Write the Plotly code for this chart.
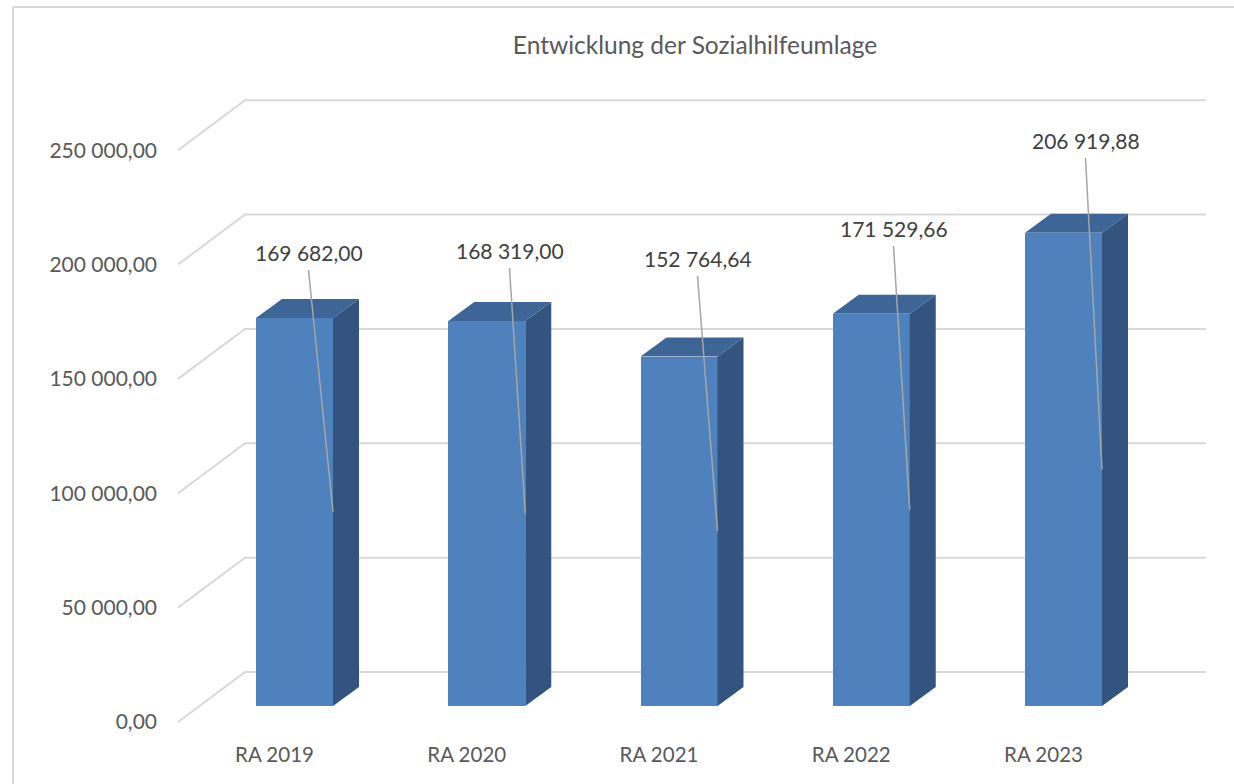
import plotly.graph_objects as go

# ---------------- data ----------------
categories = ["RA 2019", "RA 2020", "RA 2021", "RA 2022", "RA 2023"]
values = [169682.00, 168319.00, 152764.64, 171529.66, 206919.88]
value_labels = ["169 682,00", "168 319,00", "152 764,64", "171 529,66", "206 919,88"]
tick_values = [0, 50000, 100000, 150000, 200000, 250000]
tick_labels = ["0,00", "50 000,00", "100 000,00", "150 000,00", "200 000,00", "250 000,00"]
title_text = "Entwicklung der Sozialhilfeumlage"

# ---------------- geometry / style ----------------
W, H = 1234, 784
PLOT_L, PLOT_R, PLOT_T, PLOT_B = 170, 1220, 90, 740
X0_PX, PX_PER_CAT = 294.5, 192.25       # pixel of category 0 centre, px per category
Y0_PX, UNITS_PER_PX = 706.0, 437.2       # pixel of value 0 (bar plane), value units per px

def xu(px):  # pixel distance -> category units
    return px / PX_PER_CAT

def yu(px):  # pixel distance -> value units
    return px * UNITS_PER_PX

x_range = [(PLOT_L - X0_PX) / PX_PER_CAT, (PLOT_R - X0_PX) / PX_PER_CAT]
y_range = [(Y0_PX - PLOT_B) * UNITS_PER_PX, (Y0_PX - PLOT_T) * UNITS_PER_PX]

BAR_W = xu(77)
DEPTH_X, DEPTH_Y = xu(26), yu(19)
FRONT_OFF = yu(-16)      # front floor edge relative to bar plane
BACK_OFF = yu(34)        # back wall relative to bar plane
GRID_X_FRONT = (178 - X0_PX) / PX_PER_CAT
GRID_X_BACK = (245 - X0_PX) / PX_PER_CAT
GRID_X_RIGHT = (1206 - X0_PX) / PX_PER_CAT

label_dx = [xu(14), xu(22.75), xu(18.5), xu(22.25), xu(22)]
label_y = [yu(454), yu(456), yu(448), yu(478), yu(566)]

FRONT_C = "#4F81BD"
TOP_C = "#3D6595"
SIDE_C = "#33547E"
GRID_C = "#D9D9D9"
TEXT_C = "#595959"
LABEL_C = "#404040"
FONT = "Lato"

xs = list(range(len(categories)))

fig = go.Figure()

# front faces
fig.add_trace(go.Bar(x=xs, y=values, width=BAR_W, marker=dict(color=FRONT_C, line=dict(width=0)),
                     hoverinfo="skip", showlegend=False))

# side and top faces
for i, v in zip(xs, values):
    r = i + BAR_W / 2
    l = i - BAR_W / 2
    fig.add_trace(go.Scatter(
        x=[r, r + DEPTH_X, r + DEPTH_X, r, r],
        y=[0, DEPTH_Y, v + DEPTH_Y, v, 0],
        mode="lines", fill="toself", fillcolor=SIDE_C, line=dict(width=0, color=SIDE_C),
        hoverinfo="skip", showlegend=False))
    fig.add_trace(go.Scatter(
        x=[l, r, r + DEPTH_X, l + DEPTH_X, l],
        y=[v, v, v + DEPTH_Y, v + DEPTH_Y, v],
        mode="lines", fill="toself", fillcolor=TOP_C, line=dict(width=0, color=TOP_C),
        hoverinfo="skip", showlegend=False))

# leader lines + data labels
for i, v, lab, dx, ly in zip(xs, values, value_labels, label_dx, label_y):
    fig.add_trace(go.Scatter(
        x=[i + dx, i + BAR_W / 2], y=[ly - yu(18), v / 2],
        mode="lines", line=dict(color="#A6A6A6", width=1.5),
        hoverinfo="skip", showlegend=False))
    fig.add_annotation(x=i + dx, y=ly, text=lab, showarrow=False, xref="x", yref="y",
                       font=dict(family=FONT, size=21, color=LABEL_C),
                       xanchor="center", yanchor="middle")

# perspective gridlines (front edge -> back wall)
shapes = []
for t in tick_values:
    yf = t + FRONT_OFF
    yb = t + BACK_OFF
    shapes.append(dict(type="path", xref="x", yref="y", layer="below",
                       path=f"M {GRID_X_FRONT},{yf} L {GRID_X_BACK},{yb} L {GRID_X_RIGHT},{yb}",
                       line=dict(color=GRID_C, width=2)))

# chart frame (left and top edges only)
pw, ph = PLOT_R - PLOT_L, PLOT_B - PLOT_T
fx = (13 - PLOT_L) / pw
fy = (PLOT_B - 7) / ph
fx_end = (W - PLOT_L) / pw
fy_end = (PLOT_B - H) / ph
shapes.append(dict(type="line", xref="paper", yref="paper", layer="below",
                   x0=fx, x1=fx, y0=fy_end, y1=fy, line=dict(color=GRID_C, width=2)))
shapes.append(dict(type="line", xref="paper", yref="paper", layer="below",
                   x0=fx, x1=fx_end, y0=fy, y1=fy, line=dict(color=GRID_C, width=2)))

fig.update_layout(
    width=W, height=H, autosize=False,
    margin=dict(l=PLOT_L, r=W - PLOT_R, t=PLOT_T, b=H - PLOT_B, pad=0),
    paper_bgcolor="white", plot_bgcolor="white",
    title=dict(text=title_text, x=0.5, xref="paper", xanchor="center",
               y=1 - 45 / H, yref="container", yanchor="middle",
               font=dict(family=FONT, size=24.5, color=TEXT_C)),
    shapes=shapes,
    bargap=0,
    xaxis=dict(range=x_range, showgrid=False, zeroline=False, showline=False,
               tickmode="array", tickvals=[i - xu(20) for i in xs], ticktext=categories,
               ticks="", tickfont=dict(family=FONT, size=20.5, color=TEXT_C), fixedrange=True),
    yaxis=dict(range=y_range, showgrid=False, zeroline=False, showline=False,
               showticklabels=False, ticks="", fixedrange=True),
    yaxis2=dict(range=[y_range[0] - FRONT_OFF, y_range[1] - FRONT_OFF], overlaying="y", side="left",
                showgrid=False, zeroline=False, showline=False, ticks="",
                tickmode="array", tickvals=tick_values, ticktext=tick_labels,
                ticklabelstandoff=12,
                tickfont=dict(family=FONT, size=21, color=TEXT_C), fixedrange=True),
)

# dummy trace to activate yaxis2
fig.add_trace(go.Scatter(x=[None], y=[None], yaxis="y2", showlegend=False, hoverinfo="skip"))

fig.write_html("out.html", config={"displayModeBar": False},
               post_script="document.body.style.margin='0';document.body.style.overflow='hidden';")
